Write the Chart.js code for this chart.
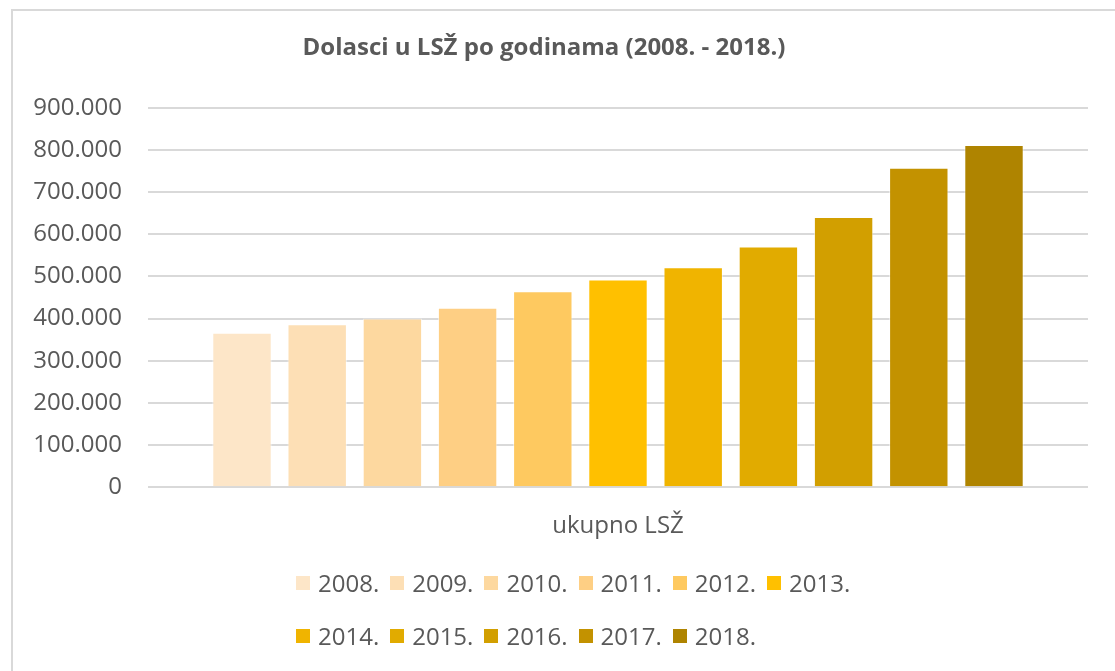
<!DOCTYPE html>
<html>
<head>
<meta charset="utf-8">
<script src="https://cdn.jsdelivr.net/npm/chart.js@4.4.0/dist/chart.umd.min.js"></script>
<style>
    html, body { margin: 0; padding: 0; background: #fff; overflow: hidden; }
    .wrap { position: relative; width: 1115px; height: 671px; }
    .frame { position: absolute; left: 11px; top: 9px; width: 2000px; height: 2000px; border: 2px solid #d9d9d9; }
    canvas { position: absolute; left: 0; top: 0; }
    #legend { position: absolute; left: 296px; top: 556px; width: 580px; }
    #legend ul { list-style: none; margin: 0; padding: 0; display: flex; flex-wrap: wrap; }
    #legend li { display: flex; align-items: center; height: 53px; margin-right: 11px; }
    #legend .box { width: 14px; height: 14px; margin-right: 8px; }
    #legend .txt { font: 24px 'Open Sans', sans-serif; color: #595959; }
</style>
</head>
<body>
<div class="wrap">
    <div class="frame"></div>
    <canvas id="chart" width="1115" height="671"></canvas>
    <div id="legend"></div>
</div>
<script>
const categories = ['ukupno LSŽ'];
const years = ['2008.', '2009.', '2010.', '2011.', '2012.', '2013.', '2014.', '2015.', '2016.', '2017.', '2018.'];
const arrivals = [366200, 386700, 400300, 425800, 464600, 492500, 521800, 571100, 640900, 757700, 811800];
const colors = ['#fde6c8', '#fddfb5', '#fdd89f', '#fecf84', '#fec960', '#ffc000',
                '#f0b400', '#e1ab00', '#d29f00', '#c39200', '#af8400'];

const textColor = '#595959';
const font = { family: "'Open Sans', sans-serif", size: 24 };

// thousands with a dot, like the Croatian locale
const fmt = v => String(v).replace(/\B(?=(\d{3})+(?!\d))/g, '.');

// legend built as html so the two rows can sit like the original
const htmlLegend = {
    id: 'htmlLegend',
    afterUpdate(chart, args, opts) {
        const box = document.getElementById(opts.containerID);
        box.innerHTML = '';
        const ul = document.createElement('ul');
        chart.options.plugins.legend.labels.generateLabels(chart).forEach(item => {
            const li = document.createElement('li');
            const sw = document.createElement('span');
            sw.className = 'box';
            sw.style.background = item.fillStyle;
            const tx = document.createElement('span');
            tx.className = 'txt';
            tx.textContent = item.text;
            li.append(sw, tx);
            ul.appendChild(li);
        });
        box.appendChild(ul);
    }
};

new Chart(document.getElementById('chart'), {
    type: 'bar',
    data: {
        labels: categories,
        datasets: years.map((y, i) => ({
            label: y,
            data: [arrivals[i]],
            backgroundColor: colors[i],
            borderColor: 'rgba(255, 255, 255, 0.55)',
            borderWidth: 1,
            categoryPercentage: 0.88,
            barPercentage: 0.79
        }))
    },
    options: {
        responsive: false,
        animation: false,
        layout: { padding: { left: 0, right: 27, top: 0, bottom: 113 } },
        plugins: {
            legend: { display: false },
            tooltip: { enabled: false },
            title: {
                display: true,
                text: 'Dolasci u LSŽ po godinama (2008. - 2018.)',
                color: textColor,
                font: { ...font, weight: 'bold' },
                padding: { top: 34, bottom: 45 }
            },
            htmlLegend: { containerID: 'legend' }
        },
        scales: {
            x: {
                grid: { display: false },
                border: { display: false },
                ticks: { color: textColor, font, padding: 17 }
            },
            y: {
                min: 0,
                max: 900000,
                afterFit: s => { s.width = 148; },
                grid: { color: '#d9d9d9', lineWidth: 2, drawTicks: false },
                border: { display: false },
                ticks: { stepSize: 100000, padding: 26, color: textColor, font, callback: v => fmt(v) }
            }
        }
    },
    plugins: [htmlLegend]
});
</script>
</body>
</html>
